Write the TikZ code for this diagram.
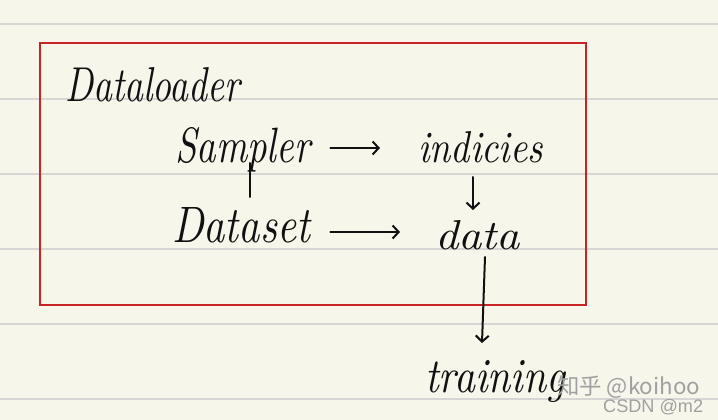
\documentclass[tikz,border=0pt]{standalone}
\usepackage{fontspec}
\usepackage{graphicx}
\newfontfamily\cjkfont{Noto Sans CJK SC}
\newfontfamily\wmfont{Liberation Sans}
\usetikzlibrary{arrows.meta}
\definecolor{paper}{RGB}{247,246,234}
\definecolor{rulec}{RGB}{214,214,210}
\definecolor{redc}{RGB}{200,36,38}
\definecolor{inkc}{RGB}{17,17,17}
\definecolor{wmc}{RGB}{160,160,160}
\newcommand\hw[3]{\resizebox{#1pt}{#2pt}{\itshape #3}}
\newcommand\wmtext[2]{\resizebox{#1pt}{!}{#2}}
\begin{document}
\begin{tikzpicture}[x=1pt,y=-1pt,
  ink/.style={draw=inkc,line width=2pt,line cap=round},
  arr/.style={ink,-{Straight Barb[length=6pt,width=13pt,line width=2pt]}},
  txt/.style={inner sep=0pt,anchor=base west,text=inkc},
  wm/.style={inner sep=0pt,anchor=base west,text=wmc}]
\fill[paper] (0,0) rectangle (718,420);
\useasboundingbox (0,0) rectangle (718,420);
\foreach \yy in {24,99,174,249,324,399} \draw[rulec,line width=1.6pt] (0,\yy) -- (718,\yy);
\draw[redc,line width=2.6pt] (40,43) rectangle (586,305);
\node[txt] (dl) at (65,101) {\hw{175}{34}{Dataloader}};
\node[txt] (sampler) at (175,162) {\hw{135}{35}{Sampler}};
\node[txt] (indicies) at (418,162) {\hw{125}{31}{indicies}};
\node[txt] (dataset) at (172,242) {\hw{138}{35}{Dataset}};
\node[txt] (data) at (435,249) {\hw{85}{29}{data}};
\node[txt] (training) at (425,392) {\hw{140}{32}{training}};
\draw[arr] ([shift={(20,-14)}]sampler.base east) -- ([shift={(-38,-14)}]indicies.base west);
\draw[arr] ([shift={(20,-10)}]dataset.base east) -- ([shift={(-35,-17)}]data.base west);
\draw[arr] ([shift={(55,15)}]indicies.base west) -- ([shift={(38,-39)}]data.base west);
\draw[arr] ([shift={(50,8)}]data.base west) -- ([shift={(57,-49)}]training.base west);
\draw[ink] ([shift={(75,1)}]sampler.base west) -- ([shift={(78,-45)}]dataset.base west);
\node[wm] (wm1) at (557,394) {\wmtext{143}{\cjkfont 知乎 @koihoo}};
\node[wm] (wm2) at (603,412) {\wmtext{100}{\wmfont CSDN @m2}};
\end{tikzpicture}
\end{document}
